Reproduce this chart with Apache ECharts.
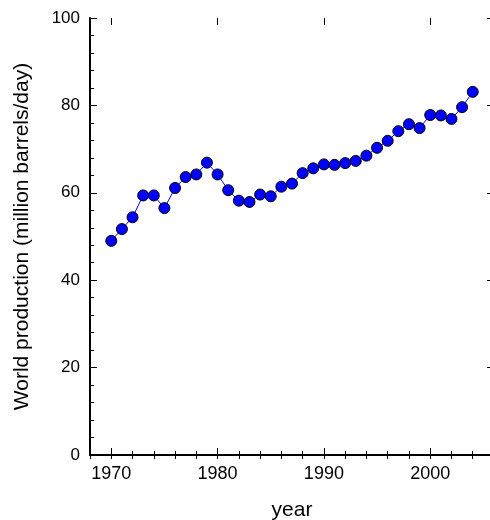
<!DOCTYPE html>
<html>
<head>
<meta charset="utf-8">
<script src="https://cdn.jsdelivr.net/npm/echarts@6/dist/echarts.min.js"></script>
<style>
  html, body { margin: 0; padding: 0; overflow: hidden; background: #fff; }
  #chart { width: 490px; height: 520px; }
</style>
</head>
<body>
<div id="chart"></div>
<script>
  // world oil production, million barrels per day
  var years = [1970, 1971, 1972, 1973, 1974, 1975, 1976, 1977, 1978, 1979,
               1980, 1981, 1982, 1983, 1984, 1985, 1986, 1987, 1988, 1989,
               1990, 1991, 1992, 1993, 1994, 1995, 1996, 1997, 1998, 1999,
               2000, 2001, 2002, 2003, 2004];
  var production = [49.0, 51.7, 54.4, 59.4, 59.4, 56.5, 61.1, 63.6, 64.2, 66.9,
                    64.2, 60.6, 58.2, 57.9, 59.6, 59.2, 61.4, 62.1, 64.5, 65.6,
                    66.5, 66.4, 66.8, 67.3, 68.5, 70.3, 71.9, 74.1, 75.7, 74.8,
                    77.8, 77.7, 76.9, 79.6, 83.1];
  var xLabels = [1970, 1980, 1990, 2000];

  var font = 'Liberation Sans, Arial, sans-serif';
  var myChart = echarts.init(document.getElementById('chart'));

  // plot box runs past the right edge of the window, like the original
  var gridBox = { left: 90, top: 18, width: 404, height: 437, outerBoundsMode: 'none', containLabel: false };

  function minorX(pos) {
    return {
      type: 'value', gridIndex: 0, position: pos, min: 1968, max: 2006, interval: 2,
      axisLine: { show: true, lineStyle: { color: '#000', width: 2 } },
      axisTick: { show: true, inside: true, length: 4, lineStyle: { color: '#000' } },
      axisLabel: pos === 'bottom' ? {
        show: true, customValues: xLabels, margin: 10,
        formatter: function (v) { return String(v); },
        color: '#000', fontSize: 18, fontFamily: font
      } : { show: false },
      splitLine: { show: false },
      name: pos === 'bottom' ? 'year' : '',
      nameLocation: 'middle', nameGap: 45,
      nameTextStyle: { color: '#000', fontSize: 21, fontFamily: font }
    };
  }
  function majorX(pos) {
    return {
      type: 'value', gridIndex: 1, position: pos, min: 1968, max: 2006,
      axisLine: { show: false },
      axisTick: { show: true, inside: true, length: 7, customValues: xLabels, lineStyle: { color: '#000' } },
      axisLabel: { show: false },
      splitLine: { show: false }
    };
  }
  function yAx(pos) {
    return {
      type: 'value', gridIndex: 0, position: pos, min: 0, max: 100, interval: 20,
      axisLine: { show: true, lineStyle: { color: '#000', width: 2 } },
      axisTick: { show: true, inside: true, length: 7, lineStyle: { color: '#000' } },
      minorTick: { show: true, splitNumber: 5, length: 4, lineStyle: { color: '#000' } },
      axisLabel: pos === 'left' ? {
        show: true, margin: 10, color: '#000', fontSize: 17, fontFamily: font
      } : { show: false },
      splitLine: { show: false },
      name: pos === 'left' ? 'World production (million barrels/day)' : '',
      nameLocation: 'middle', nameGap: 57, nameRotate: 90,
      nameTextStyle: { color: '#000', fontSize: 21, fontFamily: font }
    };
  }

  var option = {
    animation: false,
    grid: [
      Object.assign({}, gridBox),
      Object.assign({}, gridBox)
    ],
    xAxis: [minorX('bottom'), minorX('top'), majorX('bottom'), majorX('top')],
    yAxis: [yAx('left'), yAx('right'),
      { type: 'value', gridIndex: 1, min: 0, max: 100, show: false }],
    series: [
      {
        type: 'line',
        xAxisIndex: 0,
        yAxisIndex: 0,
        data: years.map(function (y, i) { return [y, production[i]]; }),
        symbol: 'circle',
        symbolSize: 11,
        lineStyle: { color: '#0000ff', width: 1 },
        itemStyle: { color: '#0000ff', borderColor: '#000', borderWidth: 1 }
      }
    ]
  };
  myChart.setOption(option);
</script>
</body>
</html>
